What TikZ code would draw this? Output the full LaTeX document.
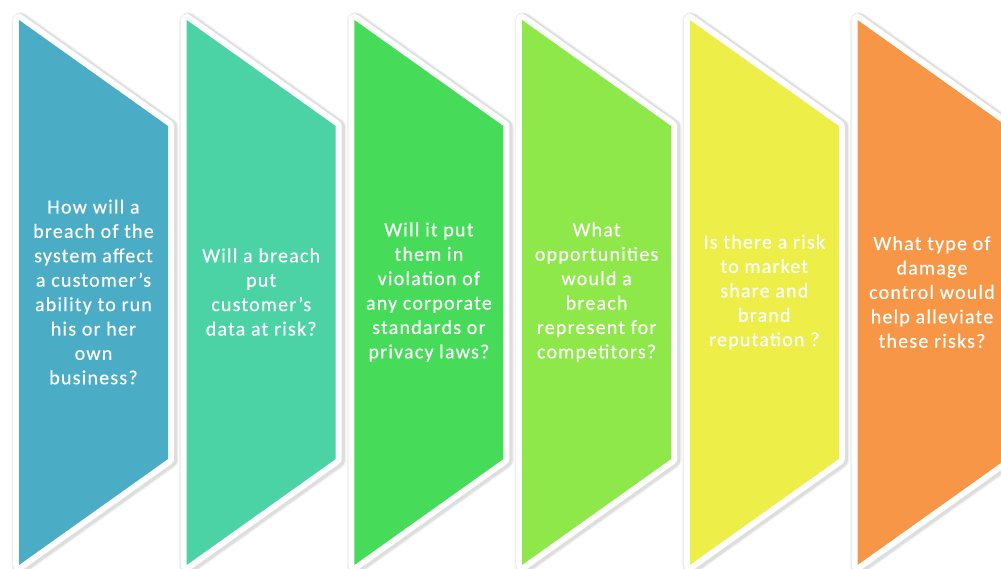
\documentclass[tikz,border=0pt]{standalone}
\usepackage{fontspec}
\setmainfont{Carlito}
\newfontfamily\qfont[LetterSpace=6,FakeBold=0.4]{Carlito}
\definecolor{cA}{HTML}{4BACC6}
\definecolor{cB}{HTML}{4BD2A5}
\definecolor{cC}{HTML}{46DC5A}
\definecolor{cD}{HTML}{8FE84A}
\definecolor{cE}{HTML}{EEEE48}
\definecolor{cF}{HTML}{F79646}
\tikzset{
  qtext/.style={text=white, align=center, inner sep=0pt,
    font=\qfont\fontsize{20bp}{24.4bp}\selectfont},
  shadowA/.style={line join=round, line width=18pt, draw=black!5, xshift=1.5pt, yshift=-1pt},
  shadowB/.style={line join=round, line width=15.5pt, draw=black!13, xshift=1.5pt, yshift=-1pt},
  whiteborder/.style={line join=round, line width=12pt, draw=white},
}
\newcommand\mychevpath[1]{(#1,20) -- ({#1+149},126) -- ({#1+149},459) -- (#1,565) -- cycle}
\begin{document}
\begin{tikzpicture}[x=1bp,y=-1bp]
\useasboundingbox (0,0) rectangle (1001,569);
\clip (0,0) rectangle (1001,569);
\fill[white] (0,0) rectangle (1001,569);
% shadows
\foreach \i in {0,...,5}{
  \pgfmathsetmacro\xa{19+167.7*\i}
  \draw[shadowA] \mychevpath{\xa};
}
\foreach \i in {0,...,5}{
  \pgfmathsetmacro\xa{19+167.7*\i}
  \draw[shadowB] \mychevpath{\xa};
}
% white borders
\foreach \i in {0,...,5}{
  \pgfmathsetmacro\xa{19+167.7*\i}
  \draw[whiteborder] \mychevpath{\xa};
}
% fills
\foreach \i/\c in {0/cA,1/cB,2/cC,3/cD,4/cE,5/cF}{
  \pgfmathsetmacro\xa{19+167.7*\i}
  \fill[\c] \mychevpath{\xa};
}
% texts
\node[qtext] (q1) at (93.5,292) {How will a\\breach of the\\system affect\\a customer’s\\ability to run\\his or her\\own\\business?};
\node[qtext] (q2) at (261.2,292) {Will a breach\\put\\customer’s\\data at risk?};
\node[qtext] (q3) at (428.9,292) {Will it put\\them in\\violation of\\any corporate\\standards or\\privacy laws?};
\node[qtext] (q4) at (596.6,292) {What\\opportunities\\would a\\breach\\represent for\\competitors?};
\node[qtext] (q5) at (764.3,292) {Is there a risk\\to market\\share and\\brand\\reputation ?};
\node[qtext] (q6) at (932.0,292) {What type of\\damage\\control would\\help alleviate\\these risks?};
\end{tikzpicture}
\end{document}
